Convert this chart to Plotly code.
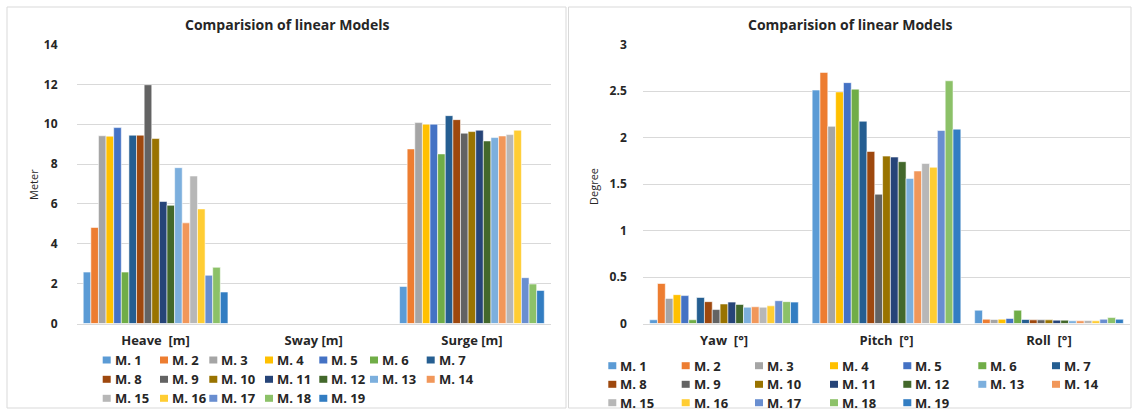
import plotly.graph_objects as go

W, H = 1137, 411

# ---- data -----------------------------------------------------------------
models = ["M. 1", "M. 2", "M. 3", "M. 4", "M. 5", "M. 6", "M. 7", "M. 8", "M. 9", "M. 10",
          "M. 11", "M. 12", "M. 13", "M. 14", "M. 15", "M. 16", "M. 17", "M. 18", "M. 19"]

lin_categories = ["Heave  [m]", "Sway [m]", "Surge [m]"]
heave = [2.58, 4.82, 9.42, 9.40, 9.83, 2.58, 9.45, 9.45, 11.98, 9.28,
         6.12, 5.93, 7.82, 5.05, 7.40, 5.75, 2.42, 2.82, 1.58]
sway = [0, 0, 0, 0, 0, 0, 0, 0, 0, 0, 0, 0, 0, 0, 0, 0, 0, 0, 0]
surge = [1.86, 8.76, 10.08, 10.00, 10.00, 8.51, 10.43, 10.23, 9.55, 9.63,
         9.70, 9.16, 9.33, 9.41, 9.48, 9.70, 2.30, 1.98, 1.66]

rot_categories = ["Yaw  [°]", "Pitch  [°]", "Roll  [°]"]
yaw = [0.04, 0.43, 0.27, 0.31, 0.30, 0.04, 0.28, 0.235, 0.15, 0.21,
       0.23, 0.205, 0.175, 0.18, 0.175, 0.19, 0.245, 0.235, 0.23]
pitch = [2.51, 2.70, 2.12, 2.49, 2.59, 2.52, 2.175, 1.85, 1.39, 1.80,
         1.79, 1.74, 1.56, 1.64, 1.72, 1.68, 2.075, 2.61, 2.09]
roll = [0.143, 0.046, 0.043, 0.046, 0.054, 0.143, 0.043, 0.039, 0.039, 0.039,
        0.036, 0.036, 0.029, 0.029, 0.032, 0.029, 0.046, 0.064, 0.046]

colors = ["#5B9BD5", "#ED7D31", "#A5A5A5", "#FFC000", "#4472C4", "#70AD47", "#255E91",
          "#9E480E", "#636363", "#997300", "#264478", "#43682B", "#7CAFDD", "#F1975A",
          "#B7B7B7", "#FFCD33", "#698ED0", "#8CC168", "#327DC2"]

# ---- helpers: pixel -> paper ---------------------------------------------
def px(x):
    return x / W


def py(y):
    return 1 - y / H


FONT = "'Open Sans', Lato, sans-serif"
TXT = "#262626"
GRID = "#D9D9D9"

fig = go.Figure()

for i, name in enumerate(models):
    fig.add_trace(go.Bar(
        x=lin_categories, y=[heave[i], sway[i], surge[i]], name=name,
        marker=dict(color=colors[i], line=dict(color="rgba(255,255,255,0.7)", width=0.8)),
        xaxis="x", yaxis="y", showlegend=False))
    fig.add_trace(go.Bar(
        x=rot_categories, y=[yaw[i], pitch[i], roll[i]], name=name,
        marker=dict(color=colors[i], line=dict(color="rgba(255,255,255,0.7)", width=0.8)),
        xaxis="x2", yaxis="y2", showlegend=False))

ydom = [py(323.5), py(44.5)]
tick_font = dict(family=FONT, size=12, color=TXT, weight="bold")
cat_font = dict(family=FONT, size=13, color=TXT, weight="bold")

common_x = dict(showgrid=False, zeroline=False, showline=True, linecolor=GRID, linewidth=1,
                ticks="", tickfont=cat_font, ticklabelstandoff=5, automargin=False,
                fixedrange=True)
common_y = dict(showgrid=True, gridcolor=GRID, gridwidth=1, zeroline=False, showline=False,
                ticks="", tickfont=tick_font, automargin=False, fixedrange=True)

fig.update_layout(
    width=W, height=H,
    margin=dict(l=0, r=0, t=0, b=0),
    paper_bgcolor="white", plot_bgcolor="white",
    template="none",
    barmode="group", bargap=0.085, bargroupgap=0,
    showlegend=False,
    font=dict(family=FONT, color=TXT),
    xaxis=dict(domain=[px(76.5), px(551)], anchor="y", **common_x),
    yaxis=dict(domain=ydom, anchor="x", range=[0, 14], dtick=2, ticklabelstandoff=18, **common_y),
    xaxis2=dict(domain=[px(642.75), px(1130.25)], anchor="y2", **common_x),
    yaxis2=dict(domain=ydom, anchor="x2", range=[0, 3], dtick=0.5, ticklabelstandoff=15, **common_y),
)

shapes = []
annotations = []

# panel frames
for x0, x1 in [(7, 566), (568.5, 1131)]:
    shapes.append(dict(type="rect", xref="paper", yref="paper",
                       x0=px(x0), x1=px(x1), y0=py(408), y1=py(7),
                       line=dict(color=GRID, width=1), fillcolor="rgba(0,0,0,0)", layer="below"))

# titles
for cx in [(7 + 566) / 2, (568.5 + 1131) / 2]:
    annotations.append(dict(text="<b>Comparision of linear Models</b>", xref="paper", yref="paper",
                            x=px(cx), y=py(24), xanchor="center", yanchor="middle",
                            showarrow=False, font=dict(family=FONT, size=14, color=TXT)))

# y-axis titles
annotations.append(dict(text="Meter", xref="paper", yref="paper", x=px(33), y=py(185),
                        textangle=-90, showarrow=False, xanchor="center", yanchor="middle",
                        font=dict(family=FONT, size=11, color=TXT)))
annotations.append(dict(text="Degree", xref="paper", yref="paper", x=px(593), y=py(187),
                        textangle=-90, showarrow=False, xanchor="center", yanchor="middle",
                        font=dict(family=FONT, size=11, color=TXT)))

# legend keys laid out in 7 columns x 3 rows
left_cols = [102.7, 160, 209.3, 265, 319.3, 370, 426.7]
left_rows = [360, 379.3, 398.3]
right_cols = [608.3, 681.7, 755, 830, 903.3, 978.3, 1052]
right_rows = [365.7, 384.3, 402.7]

for cols, rows in [(left_cols, left_rows), (right_cols, right_rows)]:
    for i, name in enumerate(models):
        x0 = cols[i % 7]
        yc = rows[i // 7]
        shapes.append(dict(type="rect", xref="paper", yref="paper",
                           x0=px(x0), x1=px(x0 + 8), y0=py(yc + 3.5), y1=py(yc - 3.5),
                           line=dict(width=0), fillcolor=colors[i]))
        annotations.append(dict(text="<b>" + name + "</b>", xref="paper", yref="paper",
                                x=px(x0 + 10), y=py(yc), xanchor="left", yanchor="middle",
                                showarrow=False, font=dict(family=FONT, size=13, color=TXT)))

fig.update_layout(shapes=shapes, annotations=annotations)

fig.write_html("out.html", config={"displayModeBar": False})
